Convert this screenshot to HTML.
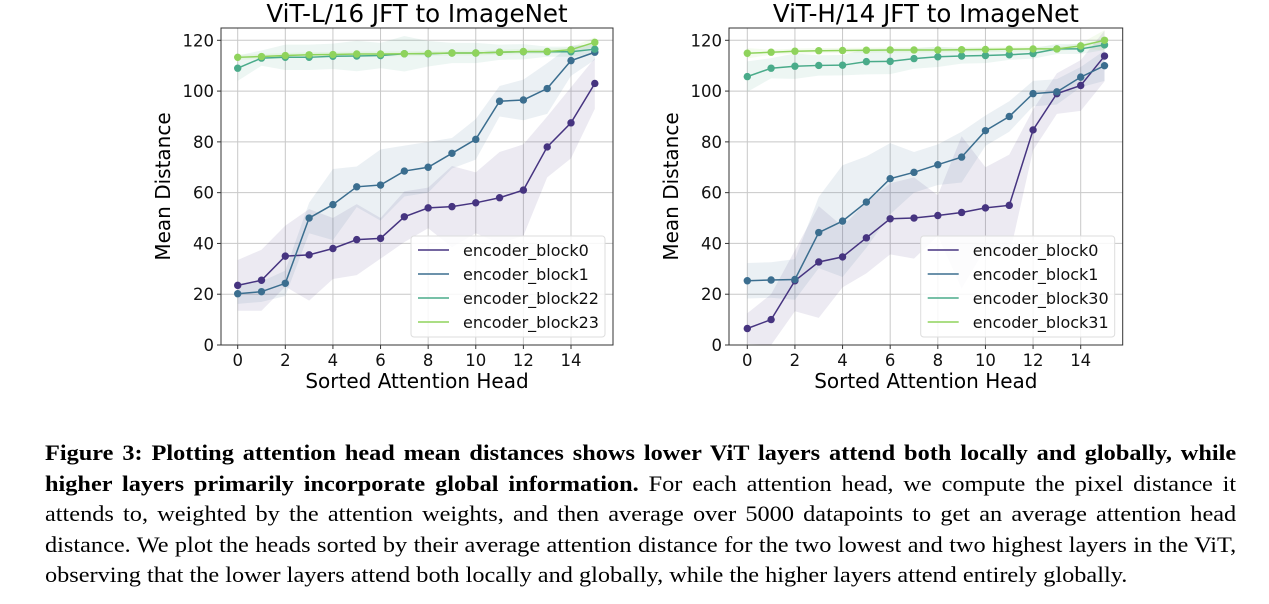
<!DOCTYPE html>
<html><head><meta charset="utf-8">
<style>
body{margin:0;background:#fff;width:1269px;height:604px;overflow:hidden;position:relative;font-family:"DejaVu Sans","Liberation Sans",sans-serif}
#cap{position:absolute;left:45px;top:438px;width:1078px;font-family:"Liberation Serif",serif;font-size:22px;line-height:30.6px;color:#000;transform:scaleX(1.105);transform-origin:0 0}
.ln{text-align:justify;text-align-last:justify;white-space:nowrap;height:30.6px}
.ln.last{text-align-last:left}
</style></head><body>
<svg id="fig" width="1269" height="420" style="position:absolute;left:0;top:0"></svg>
<div id="cap">
<div class="ln"><b>Figure 3: Plotting attention head mean distances shows lower ViT layers attend both locally and globally, while</b></div>
<div class="ln"><b>higher layers primarily incorporate global information.</b> For each attention head, we compute the pixel distance it</div>
<div class="ln">attends to, weighted by the attention weights, and then average over 5000 datapoints to get an average attention head</div>
<div class="ln">distance. We plot the heads sorted by their average attention distance for the two lowest and two highest layers in the ViT,</div>
<div class="ln last">observing that the lower layers attend both locally and globally, while the higher layers attend entirely globally.</div>
</div>
<script>
const heads=[0,1,2,3,4,5,6,7,8,9,10,11,12,13,14,15];
const xTicks=[0,2,4,6,8,10,12,14];
const yTicks=[0,20,40,60,80,100,120];
const colors=["#463480","#3b6e8f","#4aab8a","#8fd35c"];
const leftNames=["encoder_block0","encoder_block1","encoder_block22","encoder_block23"];
const leftB0=[23.5,25.5,35,35.5,38,41.5,42,50.5,54,54.5,56,58,61,78,87.5,103];
const leftB1=[20.2,21,24.3,50,55.3,62.3,63,68.5,70,75.5,81,96,96.5,101,112,115.3];
const leftB22=[109,113,113.3,113.3,113.7,113.8,114,114.7,114.7,115,115,115.3,115.5,115.5,115.5,116.5];
const leftB23=[113.3,113.6,114,114.3,114.4,114.6,114.6,114.7,114.8,115,115,115.3,115.6,115.6,116.3,119.2];
const leftSd0=[10,12,12,18,12,14,8,10,8,16,12,18,18,12,14,10];
const leftSd1=[4,4,5,6,14,8,14,10,10,6,8,6,8,10,6,3];
const leftSd22=[5,3,5,5,5,6,5,7,5,4,4,3,3,2,2,2];
const leftSd23=[1,1,1,1,1,1,1,1,1,1,1,1,1,1,1,2];
const rightNames=["encoder_block0","encoder_block1","encoder_block30","encoder_block31"];
const rightB0=[6.5,10,25.3,32.7,34.7,42.2,49.7,50,51,52.2,54,55,84.7,99,102.2,113.8];
const rightB1=[25.3,25.6,25.8,44.3,48.8,56.3,65.5,68,71,74,84.4,90,99,99.7,105.5,110];
const rightB30=[105.7,109,109.8,110.1,110.2,111.6,111.7,112.8,113.5,113.8,114,114.3,114.8,116.6,116.6,118.2];
const rightB31=[114.9,115.3,115.7,115.9,116,116.1,116.2,116.2,116.2,116.3,116.4,116.5,116.6,116.6,117.8,120];
const rightSd0=[6,10,12,22,12,14,14,16,8,30,16,20,8,8,10,10];
const rightSd1=[7,7,8,14,22,18,14,8,8,10,6,6,5,5,4,6];
const rightSd30=[6,4,5,4,4,5,5,4,4,3,3,2,2,2,2,2];
const rightSd31=[2,1,1,1,1,1,1,1,1,1,1,1,1,1,1,4];

const NS="http://www.w3.org/2000/svg";
const svg=document.getElementById('fig');
function mk(tag,attrs,parent){const e=document.createElementNS(NS,tag);for(const k in attrs)e.setAttribute(k,attrs[k]);(parent||svg).appendChild(e);return e;}

function chart(cfg){
  const g=mk('g',{});
  
  
  const L=cfg.left,R=cfg.right,T=28,B=345;
  const x=v=>cfg.x0+v*(cfg.x14-cfg.x0)/14;
  const y=v=>345-v*(345-40.3)/120;
  xTicks.forEach(t=>{mk('line',{x1:x(t),x2:x(t),y1:T,y2:B,stroke:'#c8c8c8','stroke-width':1},g);});
  yTicks.forEach(t=>{mk('line',{x1:L,x2:R,y1:y(t),y2:y(t),stroke:'#c8c8c8','stroke-width':1},g);});
  cfg.series.forEach((s,i)=>{
    let up=heads.map(h=>x(h)+','+y(Math.min(s[h]+cfg.sd[i][h],127))).join(' ');
    let dn=heads.slice().reverse().map(h=>x(h)+','+y(Math.max(s[h]-cfg.sd[i][h],0))).join(' ');
    const p=mk('polygon',{points:up+' '+dn,fill:colors[i],'fill-opacity':0.1},g);
    
    
  });
  cfg.series.forEach((s,i)=>{
    const pl=mk('polyline',{points:heads.map(h=>x(h)+','+y(s[h])).join(' '),fill:'none',stroke:colors[i],'stroke-width':1.5},g);
    
    
    heads.forEach(h=>{
      const c=mk('circle',{cx:x(h),cy:y(s[h]),r:3.7,fill:colors[i]},g);
      
      
    });
  });
  mk('rect',{x:L,y:T,width:R-L,height:B-T,fill:'none',stroke:'#333','stroke-width':1},g);
  xTicks.forEach(t=>{
    mk('line',{x1:x(t),x2:x(t),y1:B,y2:B+4,stroke:'#333'},g);
    const tx=mk('text',{x:x(t),y:B+21,'text-anchor':'middle','font-size':16.5,fill:'#111'},g);tx.textContent=t;
    
  });
  yTicks.forEach(t=>{
    mk('line',{x1:L-4,x2:L,y1:y(t),y2:y(t),stroke:'#333'},g);
    const tx=mk('text',{x:L-7,y:y(t)+6,'text-anchor':'end','font-size':16.5,fill:'#111'},g);tx.textContent=t;
    
  });
  const ttl=mk('text',{x:(L+R)/2,y:22,'text-anchor':'middle','font-size':24.5,fill:'#000'},g);ttl.textContent=cfg.title;
  
  const xl=mk('text',{x:(L+R)/2,y:388,'text-anchor':'middle','font-size':20,fill:'#000'},g);xl.textContent='Sorted Attention Head';
  
  const yl=mk('text',{x:0,y:0,'text-anchor':'middle','font-size':20,fill:'#000',transform:`translate(${L-51},${(T+B)/2}) rotate(-90)`},g);yl.textContent='Mean Distance';
  
  const lg=mk('g',{},g);
  
  mk('rect',{x:cfg.lx,y:236,width:194,height:101,rx:3,fill:'#fff','fill-opacity':0.85,stroke:'#ddd'},lg);
  cfg.names.forEach((n,i)=>{
    const yy=250+i*24;
    mk('line',{x1:cfg.lx+7,x2:cfg.lx+38,y1:yy,y2:yy,stroke:colors[i],'stroke-width':1.6},lg);
    const t=mk('text',{x:cfg.lx+52,y:yy+6,'font-size':16,fill:'#111'},lg);t.textContent=n;
    
  });
}
chart({name:'vit-l16-chart',title:'ViT-L/16 JFT to ImageNet',left:221,right:613,x0:237.7,x14:571,lx:411,
  names:leftNames,series:[leftB0,leftB1,leftB22,leftB23],sd:[leftSd0,leftSd1,leftSd22,leftSd23]});
chart({name:'vit-h14-chart',title:'ViT-H/14 JFT to ImageNet',left:729,right:1122.7,x0:747.3,x14:1080.7,lx:920.7,
  names:rightNames,series:[rightB0,rightB1,rightB30,rightB31],sd:[rightSd0,rightSd1,rightSd30,rightSd31]});
</script>
</body></html>
